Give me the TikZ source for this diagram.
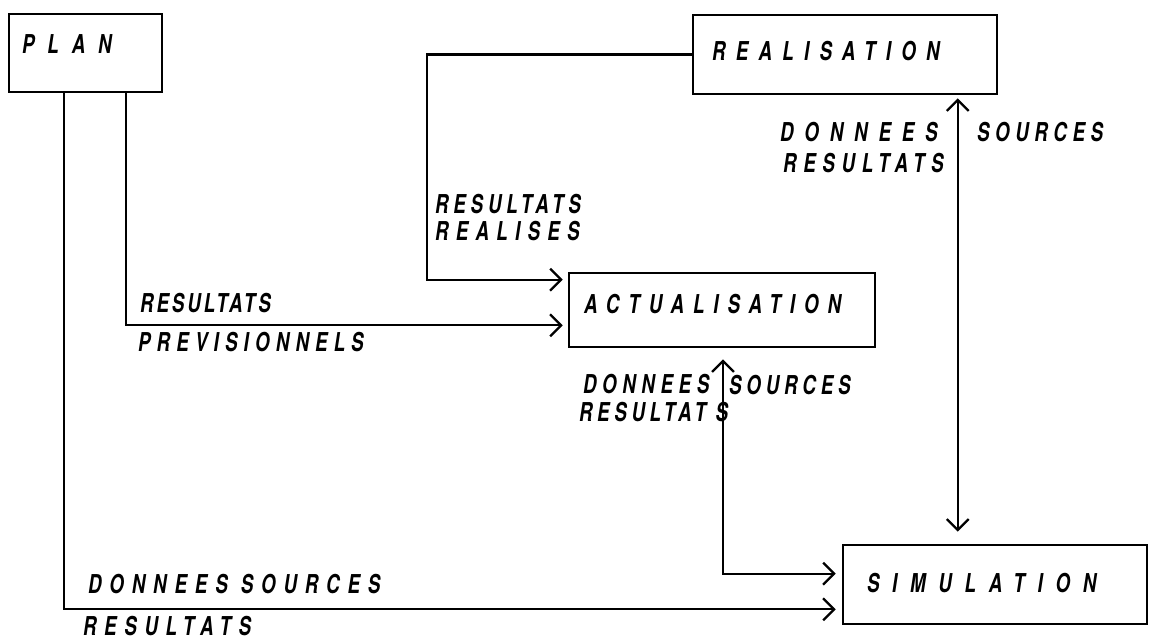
\documentclass[tikz,border=0pt]{standalone}
\usepackage{fontspec}
\usepackage{graphicx}
\setmainfont{TeX Gyre Heros}
\usetikzlibrary{arrows.meta,calc}
\newcommand{\hw}[2]{{\fontsize{26}{29}\selectfont\bfseries\itshape\addfontfeatures{LetterSpace=#1}\scalebox{0.72}[1]{#2}}}
\tikzset{
  box/.style={draw, line width=2.6pt, inner sep=0pt, rectangle},
  txt/.style={anchor=base west, inner sep=0pt, outer sep=0pt},
  tipb/.tip={Straight Barb[length=11pt,width=22pt]},
  arr/.style={line width=2.3pt, -tipb},
  arrb/.style={line width=2.3pt, tipb-tipb},
}
\begin{document}
\begin{tikzpicture}[x=1pt,y=-1pt]
\useasboundingbox (0,0) rectangle (1150,639);
% boxes
\node[box, minimum width=153pt, minimum height=78pt] (plan) at (85.5,53) {};
\node[box, minimum width=304pt, minimum height=79pt] (real) at (845,54.5) {};
\node[box, minimum width=306pt, minimum height=74pt] (act) at (722,310) {};
\node[box, minimum width=304pt, minimum height=79pt] (sim) at (995,584.5) {};
% box texts
\node[txt] (plant) at (22,53.5) {\hw{69}{PLAN}};
\node[txt] (realt) at (712,60.5) {\hw{55}{REALISATION}};
\node[txt] (actt) at (584,313.5) {\hw{48}{ACTUALISATION}};
\node[txt] (simt) at (867,592.5) {\hw{68}{SIMULATION}};
% connectors
\draw[arr] (real.west) -- ++(-265,0) |- ($(act.north west)+(-5,8)$);
\draw[arr] ($(plan.south west)+(118,0)$) |- ($(act.south west)+(-5,-23)$);
\draw[arr] ($(plan.south west)+(56,0)$) |- ($(sim.south west)+(-6,-16)$);
\draw[arrb] ($(act.south)+(1,11)$) |- ($(sim.north west)+(-6,30)$);
\draw[arrb] ($(real.south west)+(266,3)$) -- ($(sim.north west)+(116,-12)$);
% connector labels
\node[txt] (lrr1) at (435,213) {\hw{26}{RESULTATS}};
\node[txt] (lrr2) at (435,240) {\hw{39}{REALISES}};
\node[txt] (lrp1) at (140,312.5) {\hw{16}{RESULTATS}};
\node[txt] (lrp2) at (138,351) {\hw{33}{PREVISIONNELS}};
\node[txt] (lps1) at (88,593.5) {\hw{42}{DONNEES SOURCES}};
\node[txt] (lps2) at (83,635) {\hw{41}{RESULTATS}};
\node[txt] (las1) at (583,393) {\hw{30}{DONNEES}};
\node[txt] (las3) at (729,394) {\hw{26}{SOURCES}};
\node[txt] (las2) at (579,421) {\hw{25}{RESULTAT\kern13pt S}};
\node[txt] (lrs1) at (780,142) {\hw{58}{DONNEES}};
\node[txt] (lrs2) at (977,142) {\hw{30}{SOURCES}};
\node[txt] (lrs3) at (783,172) {\hw{36}{RESULTATS}};
\end{tikzpicture}
\end{document}
